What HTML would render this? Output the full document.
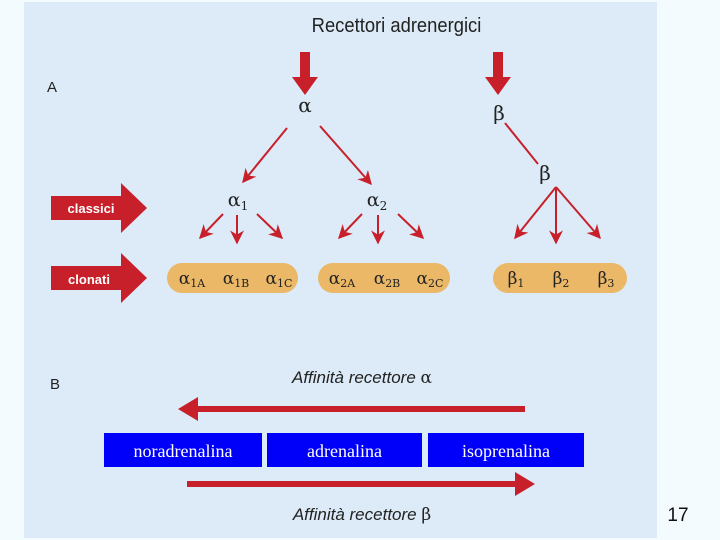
<!DOCTYPE html>
<html><head><meta charset="utf-8"><style>
body{margin:0;width:720px;height:540px;background:#f3fbfe;position:relative;overflow:hidden;font-family:"Liberation Sans",sans-serif}
.panel{position:absolute;left:24px;top:2px;width:633px;height:536px;background:#dcebf7}
.box{position:absolute;top:433px;height:34px;background:#0000fa;color:#fff;font-family:"Liberation Serif",serif;font-size:18px;text-align:center;line-height:36px}
</style></head><body>
<div class="panel"></div>
<svg width="720" height="540" style="position:absolute;left:0;top:0" font-family="Liberation Sans, sans-serif">
<defs><marker id="ah" viewBox="0 0 10 10" refX="9" refY="5" markerWidth="7" markerHeight="7" orient="auto"><path d="M0,0 L10,5 L0,10 L3,5 z" fill="#c8202a"/></marker></defs>
<text x="397" y="32" font-size="20" text-anchor="middle" fill="#222" transform="scale(0.92,1) translate(34,0)">Recettori adrenergici</text>
<text x="47" y="92" font-size="15" fill="#222">A</text>
<text x="50" y="389" font-size="15" fill="#222">B</text>
<path d="M300,52h10v25h8l-13,18l-13,-18h8z" fill="#c8202a"/>
<path d="M493,52h10v25h8l-13,18l-13,-18h8z" fill="#c8202a"/>
<text x="305" y="112" font-size="20" text-anchor="middle" fill="#222" font-family="DejaVu Serif, serif">α</text>
<text x="499" y="120" font-size="20" text-anchor="middle" fill="#222" font-family="DejaVu Serif, serif">β</text>
<text x="545" y="180" font-size="20" text-anchor="middle" fill="#222" font-family="DejaVu Serif, serif">β</text>
<text x="238" y="206" font-size="19" text-anchor="middle" fill="#222" font-family="DejaVu Serif, serif">α<tspan font-size="12" dy="4">1</tspan></text>
<text x="377" y="206" font-size="19" text-anchor="middle" fill="#222" font-family="DejaVu Serif, serif">α<tspan font-size="12" dy="4">2</tspan></text>
<g stroke="#c8202a" stroke-width="2" fill="none" marker-end="url(#ah)">
<line x1="287" y1="128" x2="243" y2="182"/><line x1="320" y1="126" x2="371" y2="184"/>
<line x1="223" y1="214" x2="200" y2="238"/><line x1="237" y1="215" x2="237" y2="243"/><line x1="257" y1="214" x2="282" y2="238"/>
<line x1="362" y1="214" x2="339" y2="238"/><line x1="378" y1="215" x2="378" y2="243"/><line x1="398" y1="214" x2="423" y2="238"/>
<line x1="556" y1="187" x2="515" y2="238"/><line x1="556" y1="187" x2="556" y2="243"/><line x1="556" y1="187" x2="600" y2="238"/>
</g>
<line x1="505" y1="123" x2="538" y2="164" stroke="#c8202a" stroke-width="2"/>
<path d="M51,196h70v-13l26,25l-26,25v-13h-70z" fill="#c8202a"/>
<path d="M51,266h70v-13l26,25l-26,25v-13h-70z" fill="#c8202a"/>
<text x="91" y="213" font-size="13" font-weight="bold" fill="#fff" text-anchor="middle">classici</text>
<text x="89" y="284" font-size="13" font-weight="bold" fill="#fff" text-anchor="middle">clonati</text>
<rect x="167" y="263" width="131" height="30" rx="15" fill="#ebb868"/>
<rect x="318" y="263" width="132" height="30" rx="15" fill="#ebb868"/>
<rect x="493" y="263" width="134" height="30" rx="15" fill="#ebb868"/>
<g font-size="17" fill="#222" font-family="DejaVu Serif, serif" text-anchor="middle">
<text x="192" y="284">α<tspan font-size="11" dy="3">1A</tspan></text>
<text x="236" y="284">α<tspan font-size="11" dy="3">1B</tspan></text>
<text x="279" y="284">α<tspan font-size="11" dy="3">1C</tspan></text>
<text x="342" y="284">α<tspan font-size="11" dy="3">2A</tspan></text>
<text x="387" y="284">α<tspan font-size="11" dy="3">2B</tspan></text>
<text x="430" y="284">α<tspan font-size="11" dy="3">2C</tspan></text>
<text x="516" y="284">β<tspan font-size="11" dy="3">1</tspan></text>
<text x="561" y="284">β<tspan font-size="11" dy="3">2</tspan></text>
<text x="606" y="284">β<tspan font-size="11" dy="3">3</tspan></text>
</g>
<text x="362" y="383" font-size="17" font-style="italic" fill="#222" text-anchor="middle">Affinità recettore <tspan font-family="DejaVu Serif, serif" font-style="normal">α</tspan></text>
<text x="362" y="520" font-size="17" font-style="italic" fill="#222" text-anchor="middle">Affinità recettore <tspan font-family="DejaVu Serif, serif" font-style="normal">β</tspan></text>
<path d="M525,406v6H198v9l-20,-12l20,-12v9z" fill="#c8202a"/>
<path d="M187,481v6h328v9l20,-12l-20,-12v9z" fill="#c8202a"/>
<text x="678" y="521" font-size="19" fill="#111" text-anchor="middle">17</text>
</svg>
<div class="box" style="left:104px;width:158px">noradrenalina</div>
<div class="box" style="left:267px;width:155px">adrenalina</div>
<div class="box" style="left:428px;width:156px">isoprenalina</div>
</body></html>
